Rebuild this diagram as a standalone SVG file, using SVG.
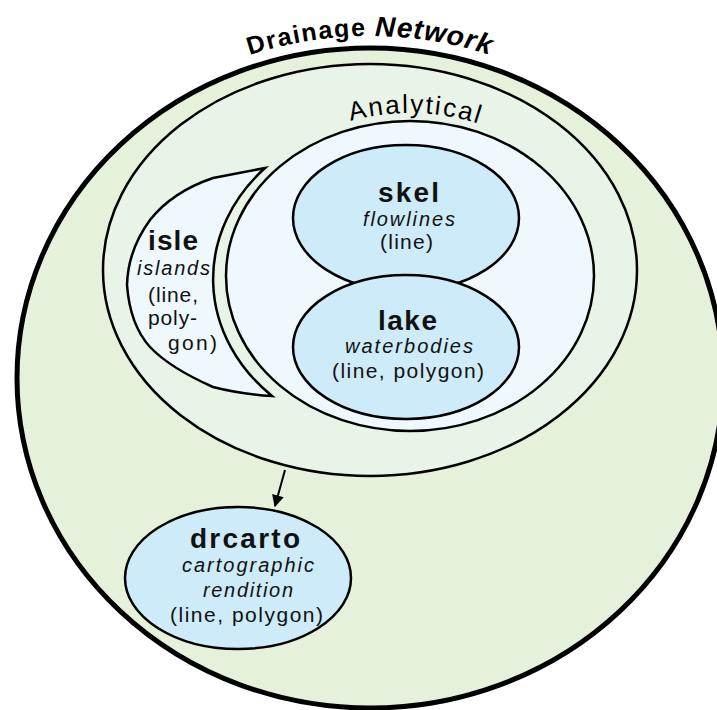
<svg xmlns="http://www.w3.org/2000/svg" width="717" height="710" viewBox="0 0 717 710">
<style>
.t{font-family:"Liberation Sans",Arial,sans-serif;fill:#111;}
.b{font-weight:bold;font-size:28px;}
.i{font-style:italic;font-size:20px;}
.n{font-size:21px;}
.blue{fill:#cdebf8;stroke:#000;stroke-width:2.5;}
</style>
<defs>
<path id="dnArc" d="M 5,378 A 365,342 0 0 1 735,378"/>
<path id="anArc" d="M 218,276 A 192,163 0 0 1 602,276"/>
<marker id="arr" viewBox="0 0 10 10" refX="9" refY="5" markerWidth="14" markerHeight="12" markerUnits="userSpaceOnUse" orient="auto">
<path d="M0,0 L10,5 L0,10 z" fill="#000"/>
</marker>
</defs>
<g id="drainage-network">
<ellipse cx="370" cy="378" rx="353" ry="330" fill="#e5f1da" stroke="#000" stroke-width="5"/>
<text class="t" style="fill:#000;font-weight:bold;font-size:25px;letter-spacing:1.5px"><textPath href="#dnArc" startOffset="50%" text-anchor="middle">Drainage <tspan style="font-style:italic;font-size:28px;letter-spacing:1px">Network</tspan></textPath></text>
</g>
<g id="analytical">
<ellipse cx="370" cy="270" rx="267" ry="206" fill="#e9f4e9" stroke="#000" stroke-width="2.5"/>
<ellipse cx="410" cy="276" rx="184" ry="155" fill="#eef8fd" stroke="#000" stroke-width="2.5"/>
<text class="t" style="fill:#000;font-size:26px;letter-spacing:2px"><textPath href="#anArc" startOffset="51%" text-anchor="middle">Analytical</textPath></text>
</g>
<g id="isle">
<path d="M265,168 L213,178 Q172,192 150,220 Q128,250 127,285 Q130,325 150,347 Q170,368 213,387 Q240,394 272,396 A 191,162 0 0 1 265,168 Z" fill="#eef8fd" stroke="#000" stroke-width="2.5" stroke-linejoin="miter"/>
<text class="t b" x="148" y="250" textLength="50" lengthAdjust="spacing">isle</text>
<text class="t i" x="137" y="275" textLength="73" lengthAdjust="spacing">islands</text>
<text class="t n" x="148" y="302" textLength="50" lengthAdjust="spacing">(line,</text>
<text class="t n" x="148" y="325" textLength="49" lengthAdjust="spacing">poly-</text>
<text class="t n" x="168" y="350" textLength="49" lengthAdjust="spacing">gon)</text>
</g>
<g id="skel">
<ellipse class="blue" cx="406" cy="218" rx="113" ry="73"/>
<text class="t b" x="378" y="202" textLength="61" lengthAdjust="spacing">skel</text>
<text class="t i" x="363" y="226" textLength="92" lengthAdjust="spacing">flowlines</text>
<text class="t n" x="380" y="249" textLength="53" lengthAdjust="spacing">(line)</text>
</g>
<g id="lake">
<ellipse class="blue" cx="406" cy="347" rx="113" ry="72"/>
<text class="t b" x="378" y="330" textLength="59" lengthAdjust="spacing">lake</text>
<text class="t i" x="345" y="353" textLength="128" lengthAdjust="spacing">waterbodies</text>
<text class="t n" x="332" y="378" textLength="152" lengthAdjust="spacing">(line, polygon)</text>
</g>
<g id="drcarto">
<ellipse class="blue" cx="238" cy="578" rx="113" ry="71"/>
<text class="t b" x="190" y="548" textLength="110" lengthAdjust="spacing">drcarto</text>
<text class="t i" x="182" y="572" textLength="132" lengthAdjust="spacing">cartographic</text>
<text class="t i" x="203" y="597" textLength="90" lengthAdjust="spacing">rendition</text>
<text class="t n" x="170" y="622" textLength="153" lengthAdjust="spacing">(line, polygon)</text>
</g>
<g id="connectors">
<line x1="285" y1="470" x2="275" y2="506" stroke="#000" stroke-width="2" marker-end="url(#arr)"/>
</g>
</svg>
